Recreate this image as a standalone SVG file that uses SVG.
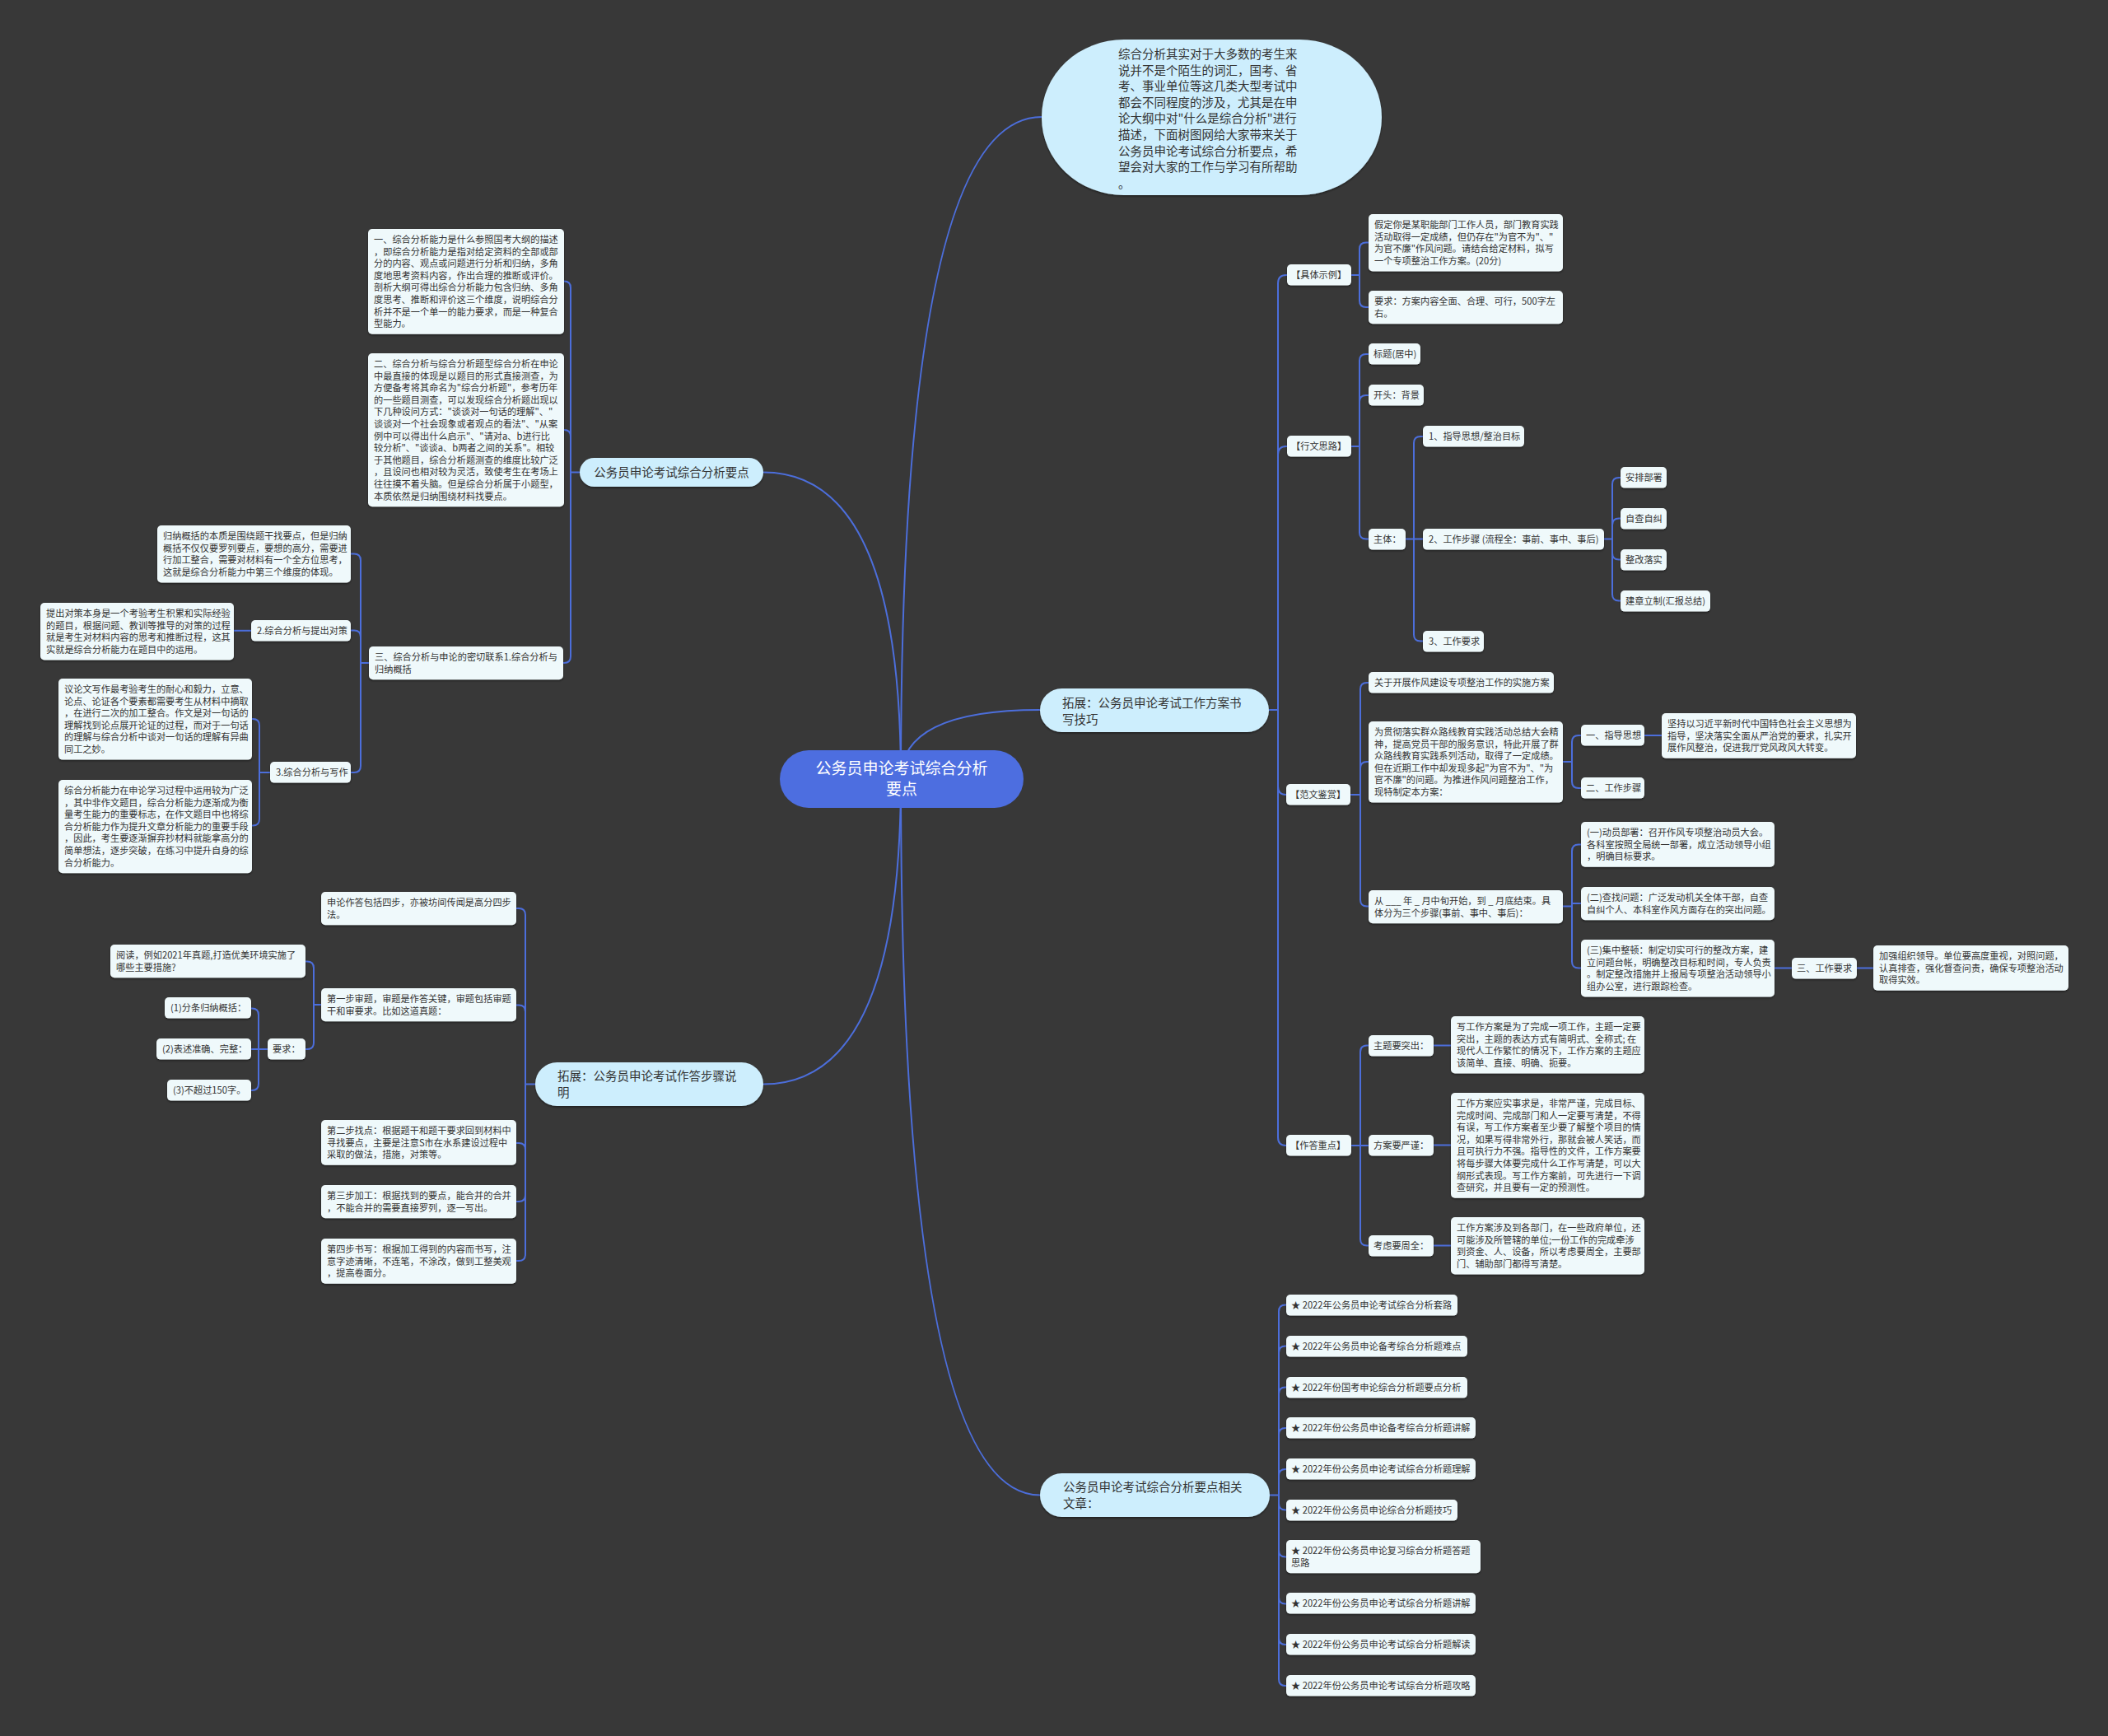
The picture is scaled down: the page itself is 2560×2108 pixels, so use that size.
<svg xmlns="http://www.w3.org/2000/svg" width="2560" height="2108" viewBox="0 0 2560 2108">
<defs>
<filter id="sh" x="-5%" y="-10%" width="110%" height="130%"><feDropShadow dx="0" dy="1.5" stdDeviation="1" flood-color="#000" flood-opacity="0.45"/></filter>
<style>
.n{fill:#eff9fb;filter:url(#sh)}
.p{fill:#cdeefd;filter:url(#sh)}
.t{font-family:"Noto Sans CJK SC","Liberation Sans",sans-serif;font-size:11.2px;fill:#333}
.pt{font-family:"Noto Sans CJK SC","Liberation Sans",sans-serif;font-size:14.5px;fill:#333}
.ct{font-family:"Noto Sans CJK SC","Liberation Sans",sans-serif;font-size:19px;fill:#fff}
.c{fill:none;stroke:#4c6edb;stroke-width:2}
</style>
</defs>
<rect x="0" y="0" width="2560" height="2108" fill="#383838"/>
<g id="connectors" class="c">
<path d="M1094 945 Q1094 142 1265 142"/>
<path d="M1094 945 Q1094 862 1263 862"/>
<path d="M1094 945 Q1094 573.5 927 573.5"/>
<path d="M1094 945 Q1094 1316.5 927 1316.5"/>
<path d="M1094 945 Q1094 1815.5 1263 1815.5"/>
<path d="M1541 862 H1552 M1552 862 V344 Q1552 334 1562 334 H1563 M1552 862 V552 Q1552 542 1562 542 H1563 M1552 862 V955 Q1552 965 1562 965 M1552 862 V1381 Q1552 1391 1562 1391"/>
<path d="M1641 334 H1651 M1651 334 V302.5 Q1651 294.5 1659 294.5 H1662 M1651 334 V365 Q1651 373 1659 373 H1662"/>
<path d="M1641 542 H1651 M1651 542 V438 Q1651 430 1659 430 H1662 M1651 542 V488 Q1651 480 1659 480 H1662 M1651 542 V646.5 Q1651 654.5 1659 654.5 H1662"/>
<path d="M1707 654.5 H1728 M1717 654.5 V538 Q1717 530 1725 530 H1728 M1717 654.5 V770.5 Q1717 778.5 1725 778.5 H1728"/>
<path d="M1948 654.5 H1958 M1958 654.5 V588 Q1958 580 1966 580 H1968 M1958 654.5 V637.5 Q1958 629.5 1966 629.5 H1968 M1958 654.5 V671.5 Q1958 679.5 1966 679.5 H1968 M1958 654.5 V721.5 Q1958 729.5 1966 729.5 H1968"/>
<path d="M1640 965 H1652 M1652 965 V837 Q1652 829 1660 829 H1662 M1652 965 V933 Q1652 925 1660 925 H1662 M1652 965 V1092.5 Q1652 1100.5 1660 1100.5 H1662"/>
<path d="M1898 925 H1909 M1909 925 V901 Q1909 893 1917 893 H1920 M1909 925 V949 Q1909 957 1917 957 H1920"/>
<path d="M1997 893 H2018"/>
<path d="M1898 1100.5 H1909 M1909 1100.5 V1033.5 Q1909 1025.5 1917 1025.5 H1920 M1909 1100.5 V1097 H1920 M1909 1100.5 V1167.5 Q1909 1175.5 1917 1175.5 H1920"/>
<path d="M2155 1175.5 H2176 M2255 1175.5 H2275"/>
<path d="M1641 1391 H1662 M1652 1391 V1277.5 Q1652 1269.5 1660 1269.5 H1662 M1652 1391 V1504.5 Q1652 1512.5 1660 1512.5 H1662"/>
<path d="M1741 1269.5 H1762 M1741 1390.5 H1762 M1741 1512.5 H1762"/>
<path d="M1542 1815.5 H1553 M1553 1815.5 V1592.5 Q1553 1584.5 1561 1584.5 H1562 M1553 1815.5 V1642.5 Q1553 1634.5 1561 1634.5 H1562 M1553 1815.5 V1692.5 Q1553 1684.5 1561 1684.5 H1562 M1553 1815.5 V1742 Q1553 1734 1561 1734 H1562 M1553 1815.5 V1792 Q1553 1784 1561 1784 H1562 M1553 1815.5 V1825.5 Q1553 1833.5 1561 1833.5 H1562 M1553 1815.5 V1882.5 Q1553 1890.5 1561 1890.5 H1562 M1553 1815.5 V1939.5 Q1553 1947.5 1561 1947.5 H1562 M1553 1815.5 V1989 Q1553 1997 1561 1997 H1562 M1553 1815.5 V2039 Q1553 2047 1561 2047 H1562"/>
<path d="M704 573.5 H693 M693 573.5 V349.5 Q693 341.5 685 341.5 M693 573.5 V530 Q693 522 685 522 M693 573.5 V797 Q693 805 685 805 H684"/>
<path d="M448 805 H438 M438 805 V680.5 Q438 672.5 430 672.5 H426 M438 805 V773.5 Q438 765.5 430 765.5 H426 M438 805 V930 Q438 938 430 938 H426"/>
<path d="M305 765.8 H284"/>
<path d="M328 938 H315 M315 938 V881 Q315 873 307 873 H306 M315 938 V994.5 Q315 1002.5 307 1002.5 H306"/>
<path d="M650 1316.5 H638 M638 1316.5 V1111 Q638 1103 630 1103 H627 M638 1316.5 V1228.5 Q638 1220.5 630 1220.5 H627 M638 1316.5 V1396 Q638 1388 630 1388 H627 M638 1316.5 V1451 Q638 1459 630 1459 H627 M638 1316.5 V1523 Q638 1531 630 1531 H627"/>
<path d="M390 1220 H381 M381 1220 V1175.5 Q381 1167.5 373 1167.5 H371 M381 1220 V1266 Q381 1274 373 1274 H371"/>
<path d="M325 1274 H305 M314 1274 V1232.5 Q314 1224.5 306 1224.5 H305 M314 1274 V1316 Q314 1324 306 1324 H305"/>
</g>

<g id="center">
<rect x="947" y="911" width="296" height="70" rx="35" fill="#4d6ee0"/>
<text class="ct" text-anchor="middle"><tspan x="1095" y="940">公务员申论考试综合分析</tspan><tspan x="1095" y="965">要点</tspan></text>
</g>

<g id="intro">
<rect class="p" x="1265" y="48" width="413" height="189" rx="100" ry="94"/>
<text class="pt"><tspan x="1358" y="71">综合分析其实对于大多数的考生来</tspan><tspan x="1358" dy="19.6">说并不是个陌生的词汇，国考、省</tspan><tspan x="1358" dy="19.6">考、事业单位等这几类大型考试中</tspan><tspan x="1358" dy="19.6">都会不同程度的涉及，尤其是在申</tspan><tspan x="1358" dy="19.6">论大纲中对"什么是综合分析"进行</tspan><tspan x="1358" dy="19.6">描述，下面树图网给大家带来关于</tspan><tspan x="1358" dy="19.6">公务员申论考试综合分析要点，希</tspan><tspan x="1358" dy="19.6">望会对大家的工作与学习有所帮助</tspan><tspan x="1358" dy="19.6">。</tspan></text>
</g>

<g id="branch-left1">
<rect class="p" x="704" y="556" width="223" height="35" rx="17.5"/>
<text class="pt" x="815.5" y="579" text-anchor="middle">公务员申论考试综合分析要点</text>
</g>
<g id="l1-a">
<rect class="n" x="447" y="278" width="238" height="127.8" rx="5"/>
<text class="t"><tspan x="454" y="295">一、综合分析能力是什么参照国考大纲的描述</tspan><tspan x="454" dy="14.6">，即综合分析能力是指对给定资料的全部或部</tspan><tspan x="454" dy="14.6">分的内容、观点或问题进行分析和归纳，多角</tspan><tspan x="454" dy="14.6">度地思考资料内容，作出合理的推断或评价。</tspan><tspan x="454" dy="14.6">剖析大纲可得出综合分析能力包含归纳、多角</tspan><tspan x="454" dy="14.6">度思考、推断和评价这三个维度，说明综合分</tspan><tspan x="454" dy="14.6">析并不是一个单一的能力要求，而是一种复合</tspan><tspan x="454" dy="14.6">型能力。</tspan></text>
</g>
<g id="l1-b">
<rect class="n" x="447" y="429" width="238" height="186.2" rx="5"/>
<text class="t"><tspan x="454" y="446">二、综合分析与综合分析题型综合分析在申论</tspan><tspan x="454" dy="14.6">中最直接的体现是以题目的形式直接测查，为</tspan><tspan x="454" dy="14.6">方便备考将其命名为"综合分析题"，参考历年</tspan><tspan x="454" dy="14.6">的一些题目测查，可以发现综合分析题出现以</tspan><tspan x="454" dy="14.6">下几种设问方式："谈谈对一句话的理解"、"</tspan><tspan x="454" dy="14.6">谈谈对一个社会现象或者观点的看法"、"从案</tspan><tspan x="454" dy="14.6">例中可以得出什么启示"、"请对a、b进行比</tspan><tspan x="454" dy="14.6">较分析"、"谈谈a、b两者之间的关系"。相较</tspan><tspan x="454" dy="14.6">于其他题目，综合分析题测查的维度比较广泛</tspan><tspan x="454" dy="14.6">，且设问也相对较为灵活，致使考生在考场上</tspan><tspan x="454" dy="14.6">往往摸不着头脑。但是综合分析属于小题型，</tspan><tspan x="454" dy="14.6">本质依然是归纳围绕材料找要点。</tspan></text>
</g>
<g id="l1-c">
<rect class="n" x="448" y="785" width="236" height="40.2" rx="5"/>
<text class="t"><tspan x="455" y="802">三、综合分析与申论的密切联系1.综合分析与</tspan><tspan x="455" dy="14.6">归纳概括</tspan></text>
</g>
<g id="l1-c1">
<rect class="n" x="191" y="638" width="235" height="69.4" rx="5"/>
<text class="t"><tspan x="198" y="655">归纳概括的本质是围绕题干找要点，但是归纳</tspan><tspan x="198" dy="14.6">概括不仅仅要罗列要点，要想的高分，需要进</tspan><tspan x="198" dy="14.6">行加工整合，需要对材料有一个全方位思考，</tspan><tspan x="198" dy="14.6">这就是综合分析能力中第三个维度的体现。</tspan></text>
</g>
<g id="l1-c2">
<rect class="n" x="305" y="753" width="121" height="25.6" rx="5"/>
<text class="t" x="312" y="770">2.综合分析与提出对策</text>
</g>
<g id="l1-c2a">
<rect class="n" x="49" y="732" width="235" height="69.4" rx="5"/>
<text class="t"><tspan x="56" y="749">提出对策本身是一个考验考生积累和实际经验</tspan><tspan x="56" dy="14.6">的题目，根据问题、教训等推导的对策的过程</tspan><tspan x="56" dy="14.6">就是考生对材料内容的思考和推断过程，这其</tspan><tspan x="56" dy="14.6">实就是综合分析能力在题目中的运用。</tspan></text>
</g>
<g id="l1-c3">
<rect class="n" x="328" y="925" width="98" height="25.6" rx="5"/>
<text class="t" x="335" y="942">3.综合分析与写作</text>
</g>
<g id="l1-c3a">
<rect class="n" x="71" y="824" width="235" height="98.6" rx="5"/>
<text class="t"><tspan x="78" y="841">议论文写作最考验考生的耐心和毅力，立意、</tspan><tspan x="78" dy="14.6">论点、论证各个要素都需要考生从材料中摘取</tspan><tspan x="78" dy="14.6">，在进行二次的加工整合。作文是对一句话的</tspan><tspan x="78" dy="14.6">理解找到论点展开论证的过程，而对于一句话</tspan><tspan x="78" dy="14.6">的理解与综合分析中谈对一句话的理解有异曲</tspan><tspan x="78" dy="14.6">同工之妙。</tspan></text>
</g>
<g id="l1-c3b">
<rect class="n" x="71" y="947" width="235" height="113.2" rx="5"/>
<text class="t"><tspan x="78" y="964">综合分析能力在申论学习过程中运用较为广泛</tspan><tspan x="78" dy="14.6">，其中非作文题目，综合分析能力逐渐成为衡</tspan><tspan x="78" dy="14.6">量考生能力的重要标志，在作文题目中也将综</tspan><tspan x="78" dy="14.6">合分析能力作为提升文章分析能力的重要手段</tspan><tspan x="78" dy="14.6">，因此，考生要逐渐摒弃抄材料就能拿高分的</tspan><tspan x="78" dy="14.6">简单想法，逐步突破，在练习中提升自身的综</tspan><tspan x="78" dy="14.6">合分析能力。</tspan></text>
</g>

<g id="branch-left2">
<rect class="p" x="650" y="1290" width="277" height="53" rx="26.5"/>
<text class="pt"><tspan x="677" y="1312">拓展：公务员申论考试作答步骤说</tspan><tspan x="677" dy="20">明</tspan></text>
</g>
<g id="l2-s0">
<rect class="n" x="390" y="1083" width="237" height="40.2" rx="5"/>
<text class="t"><tspan x="397" y="1100">申论作答包括四步，亦被坊间传闻是高分四步</tspan><tspan x="397" dy="14.6">法。</tspan></text>
</g>
<g id="l2-s1">
<rect class="n" x="390" y="1200" width="237" height="40.2" rx="5"/>
<text class="t"><tspan x="397" y="1217">第一步审题，审题是作答关键，审题包括审题</tspan><tspan x="397" dy="14.6">干和审要求。比如这道真题：</tspan></text>
</g>
<g id="l2-s1a">
<rect class="n" x="134" y="1147" width="237" height="40.2" rx="5"/>
<text class="t"><tspan x="141" y="1164">阅读，例如2021年真题,打造优美环境实施了</tspan><tspan x="141" dy="14.6">哪些主要措施?</tspan></text>
</g>
<g id="l2-s1b">
<rect class="n" x="325" y="1261" width="46" height="25.6" rx="5"/>
<text class="t" x="331" y="1278">要求：</text>
</g>
<g id="l2-s1b1">
<rect class="n" x="200" y="1211" width="105" height="25.6" rx="5"/>
<text class="t" x="207" y="1228">(1)分条归纳概括：</text>
</g>
<g id="l2-s1b2">
<rect class="n" x="190" y="1261" width="115" height="25.6" rx="5"/>
<text class="t" x="197" y="1278">(2)表述准确、完整：</text>
</g>
<g id="l2-s1b3">
<rect class="n" x="203" y="1311" width="102" height="25.6" rx="5"/>
<text class="t" x="210" y="1328">(3)不超过150字。</text>
</g>
<g id="l2-s2">
<rect class="n" x="390" y="1360" width="237" height="54.8" rx="5"/>
<text class="t"><tspan x="397" y="1377">第二步找点：根据题干和题干要求回到材料中</tspan><tspan x="397" dy="14.6">寻找要点，主要是注意S市在水系建设过程中</tspan><tspan x="397" dy="14.6">采取的做法，措施，对策等。</tspan></text>
</g>
<g id="l2-s3">
<rect class="n" x="390" y="1439" width="237" height="40.2" rx="5"/>
<text class="t"><tspan x="397" y="1456">第三步加工：根据找到的要点，能合并的合并</tspan><tspan x="397" dy="14.6">，不能合并的需要直接罗列，逐一写出。</tspan></text>
</g>
<g id="l2-s4">
<rect class="n" x="390" y="1504" width="237" height="54.8" rx="5"/>
<text class="t"><tspan x="397" y="1521">第四步书写：根据加工得到的内容而书写，注</tspan><tspan x="397" dy="14.6">意字迹清晰，不连笔，不涂改，做到工整美观</tspan><tspan x="397" dy="14.6">，提高卷面分。</tspan></text>
</g>

<g id="branch-right1">
<rect class="p" x="1263" y="836" width="278" height="53" rx="26.5"/>
<text class="pt"><tspan x="1290" y="858.5">拓展：公务员申论考试工作方案书</tspan><tspan x="1290" dy="20">写技巧</tspan></text>
</g>
<g id="r1-k1">
<rect class="n" x="1563" y="321" width="78" height="25.6" rx="5"/>
<text class="t" x="1568" y="338">【具体示例】</text>
</g>
<g id="r1-k1a">
<rect class="n" x="1662" y="260" width="236" height="69.4" rx="5"/>
<text class="t"><tspan x="1669" y="277">假定你是某职能部门工作人员，部门教育实践</tspan><tspan x="1669" dy="14.6">活动取得一定成绩，但仍存在"为官不为"、"</tspan><tspan x="1669" dy="14.6">为官不廉"作风问题。请结合给定材料，拟写</tspan><tspan x="1669" dy="14.6">一个专项整治工作方案。(20分)</tspan></text>
</g>
<g id="r1-k1b">
<rect class="n" x="1662" y="353" width="236" height="40.2" rx="5"/>
<text class="t"><tspan x="1669" y="370">要求：方案内容全面、合理、可行，500字左</tspan><tspan x="1669" dy="14.6">右。</tspan></text>
</g>
<g id="r1-k2">
<rect class="n" x="1563" y="529" width="78" height="25.6" rx="5"/>
<text class="t" x="1568" y="546">【行文思路】</text>
</g>
<g id="r1-k2a">
<rect class="n" x="1662" y="417" width="63" height="25.6" rx="5"/>
<text class="t" x="1668" y="434">标题(居中)</text>
</g>
<g id="r1-k2b">
<rect class="n" x="1662" y="467" width="67" height="25.6" rx="5"/>
<text class="t" x="1668" y="484">开头：背景</text>
</g>
<g id="r1-k2c">
<rect class="n" x="1662" y="642" width="45" height="25.6" rx="5"/>
<text class="t" x="1668" y="659">主体：</text>
</g>
<g id="r1-k2c1">
<rect class="n" x="1728" y="517" width="123" height="25.6" rx="5"/>
<text class="t" x="1735" y="534">1、指导思想/整治目标</text>
</g>
<g id="r1-k2c2">
<rect class="n" x="1728" y="642" width="220" height="25.6" rx="5"/>
<text class="t" x="1735" y="659">2、工作步骤 (流程全：事前、事中、事后)</text>
</g>
<g id="r1-k2c3">
<rect class="n" x="1728" y="766" width="74" height="25.6" rx="5"/>
<text class="t" x="1735" y="783">3、工作要求</text>
</g>
<g id="r1-k2c2a">
<rect class="n" x="1968" y="567" width="56" height="25.6" rx="5"/>
<text class="t" x="1974" y="584">安排部署</text>
</g>
<g id="r1-k2c2b">
<rect class="n" x="1968" y="617" width="56" height="25.6" rx="5"/>
<text class="t" x="1974" y="634">自查自纠</text>
</g>
<g id="r1-k2c2c">
<rect class="n" x="1968" y="667" width="56" height="25.6" rx="5"/>
<text class="t" x="1974" y="684">整改落实</text>
</g>
<g id="r1-k2c2d">
<rect class="n" x="1968" y="717" width="109" height="25.6" rx="5"/>
<text class="t" x="1974" y="734">建章立制(汇报总结)</text>
</g>
<g id="r1-k3">
<rect class="n" x="1562" y="952" width="78" height="25.6" rx="5"/>
<text class="t" x="1567" y="969">【范文鉴赏】</text>
</g>
<g id="r1-k3a">
<rect class="n" x="1662" y="816" width="225" height="25.6" rx="5"/>
<text class="t" x="1669" y="833">关于开展作风建设专项整治工作的实施方案</text>
</g>
<g id="r1-k3b">
<rect class="n" x="1662" y="876" width="236" height="98.6" rx="5"/>
<text class="t"><tspan x="1669" y="893">为贯彻落实群众路线教育实践活动总结大会精</tspan><tspan x="1669" dy="14.6">神，提高党员干部的服务意识，特此开展了群</tspan><tspan x="1669" dy="14.6">众路线教育实践系列活动，取得了一定成绩。</tspan><tspan x="1669" dy="14.6">但在近期工作中却发现多起"为官不为"、"为</tspan><tspan x="1669" dy="14.6">官不廉"的问题。为推进作风问题整治工作，</tspan><tspan x="1669" dy="14.6">现特制定本方案：</tspan></text>
</g>
<g id="r1-k3b1">
<rect class="n" x="1920" y="880" width="77" height="25.6" rx="5"/>
<text class="t" x="1926" y="897">一、指导思想</text>
</g>
<g id="r1-k3b1a">
<rect class="n" x="2018" y="866" width="236" height="54.8" rx="5"/>
<text class="t"><tspan x="2025" y="883">坚持以习近平新时代中国特色社会主义思想为</tspan><tspan x="2025" dy="14.6">指导，坚决落实全面从严治党的要求，扎实开</tspan><tspan x="2025" dy="14.6">展作风整治，促进我厅党风政风大转变。</tspan></text>
</g>
<g id="r1-k3b2">
<rect class="n" x="1920" y="944" width="77" height="25.6" rx="5"/>
<text class="t" x="1926" y="961">二、工作步骤</text>
</g>
<g id="r1-k3c">
<rect class="n" x="1662" y="1081" width="236" height="40.2" rx="5"/>
<text class="t"><tspan x="1669" y="1098">从 ___ 年 _ 月中旬开始，到 _ 月底结束。具</tspan><tspan x="1669" dy="14.6">体分为三个步骤(事前、事中、事后)：</tspan></text>
</g>
<g id="r1-k3c1">
<rect class="n" x="1920" y="998" width="235" height="54.8" rx="5"/>
<text class="t"><tspan x="1927" y="1015">(一)动员部署：召开作风专项整治动员大会。</tspan><tspan x="1927" dy="14.6">各科室按照全局统一部署，成立活动领导小组</tspan><tspan x="1927" dy="14.6">，明确目标要求。</tspan></text>
</g>
<g id="r1-k3c2">
<rect class="n" x="1920" y="1077" width="235" height="40.2" rx="5"/>
<text class="t"><tspan x="1927" y="1094">(二)查找问题：广泛发动机关全体干部，自查</tspan><tspan x="1927" dy="14.6">自纠个人、本科室作风方面存在的突出问题。</tspan></text>
</g>
<g id="r1-k3c3">
<rect class="n" x="1920" y="1141" width="235" height="69.4" rx="5"/>
<text class="t"><tspan x="1927" y="1158">(三)集中整顿：制定切实可行的整改方案，建</tspan><tspan x="1927" dy="14.6">立问题台帐，明确整改目标和时间，专人负责</tspan><tspan x="1927" dy="14.6">。制定整改措施并上报局专项整治活动领导小</tspan><tspan x="1927" dy="14.6">组办公室，进行跟踪检查。</tspan></text>
</g>
<g id="r1-k3c3a">
<rect class="n" x="2176" y="1163" width="79" height="25.6" rx="5"/>
<text class="t" x="2182" y="1180">三、工作要求</text>
</g>
<g id="r1-k3c3a1">
<rect class="n" x="2275" y="1148" width="237" height="54.8" rx="5"/>
<text class="t"><tspan x="2282" y="1165">加强组织领导。单位要高度重视，对照问题，</tspan><tspan x="2282" dy="14.6">认真排查，强化督查问责，确保专项整治活动</tspan><tspan x="2282" dy="14.6">取得实效。</tspan></text>
</g>
<g id="r1-k4">
<rect class="n" x="1562" y="1378" width="79" height="25.6" rx="5"/>
<text class="t" x="1567" y="1395">【作答重点】</text>
</g>
<g id="r1-k4a">
<rect class="n" x="1662" y="1257" width="79" height="25.6" rx="5"/>
<text class="t" x="1668" y="1274">主题要突出：</text>
</g>
<g id="r1-k4b">
<rect class="n" x="1662" y="1378" width="79" height="25.6" rx="5"/>
<text class="t" x="1668" y="1395">方案要严谨：</text>
</g>
<g id="r1-k4c">
<rect class="n" x="1662" y="1500" width="79" height="25.6" rx="5"/>
<text class="t" x="1668" y="1517">考虑要周全：</text>
</g>
<g id="r1-k4a1">
<rect class="n" x="1762" y="1234" width="235" height="69.4" rx="5"/>
<text class="t"><tspan x="1769" y="1251">写工作方案是为了完成一项工作，主题一定要</tspan><tspan x="1769" dy="14.6">突出，主题的表达方式有简明式、全称式; 在</tspan><tspan x="1769" dy="14.6">现代人工作繁忙的情况下，工作方案的主题应</tspan><tspan x="1769" dy="14.6">该简单、直接、明确、扼要。</tspan></text>
</g>
<g id="r1-k4b1">
<rect class="n" x="1762" y="1327" width="235" height="127.8" rx="5"/>
<text class="t"><tspan x="1769" y="1344">工作方案应实事求是，非常严谨，完成目标、</tspan><tspan x="1769" dy="14.6">完成时间、完成部门和人一定要写清楚，不得</tspan><tspan x="1769" dy="14.6">有误，写工作方案者至少要了解整个项目的情</tspan><tspan x="1769" dy="14.6">况，如果写得非常外行，那就会被人笑话，而</tspan><tspan x="1769" dy="14.6">且可执行力不强。指导性的文件，工作方案要</tspan><tspan x="1769" dy="14.6">将每步骤大体要完成什么工作写清楚，可以大</tspan><tspan x="1769" dy="14.6">纲形式表现。写工作方案前，可先进行一下调</tspan><tspan x="1769" dy="14.6">查研究，并且要有一定的预测性。</tspan></text>
</g>
<g id="r1-k4c1">
<rect class="n" x="1762" y="1478" width="235" height="69.4" rx="5"/>
<text class="t"><tspan x="1769" y="1495">工作方案涉及到各部门，在一些政府单位，还</tspan><tspan x="1769" dy="14.6">可能涉及所管辖的单位;一份工作的完成牵涉</tspan><tspan x="1769" dy="14.6">到资金、人、设备，所以考虑要周全，主要部</tspan><tspan x="1769" dy="14.6">门、辅助部门都得写清楚。</tspan></text>
</g>

<g id="branch-right2">
<rect class="p" x="1263" y="1789" width="279" height="53" rx="26.5"/>
<text class="pt"><tspan x="1291" y="1811">公务员申论考试综合分析要点相关</tspan><tspan x="1291" dy="20">文章：</tspan></text>
</g>
<g id="art1"><rect class="n" x="1562" y="1572" width="208" height="25.6" rx="5"/><text class="t" x="1568" y="1589">★ 2022年公务员申论考试综合分析套路</text></g>
<g id="art2"><rect class="n" x="1562" y="1622" width="220" height="25.6" rx="5"/><text class="t" x="1568" y="1639">★ 2022年公务员申论备考综合分析题难点</text></g>
<g id="art3"><rect class="n" x="1562" y="1672" width="220" height="25.6" rx="5"/><text class="t" x="1568" y="1689">★ 2022年份国考申论综合分析题要点分析</text></g>
<g id="art4"><rect class="n" x="1562" y="1721" width="230" height="25.6" rx="5"/><text class="t" x="1568" y="1738">★ 2022年份公务员申论备考综合分析题讲解</text></g>
<g id="art5"><rect class="n" x="1562" y="1771" width="230" height="25.6" rx="5"/><text class="t" x="1568" y="1788">★ 2022年份公务员申论考试综合分析题理解</text></g>
<g id="art6"><rect class="n" x="1562" y="1821" width="208" height="25.6" rx="5"/><text class="t" x="1568" y="1838">★ 2022年份公务员申论综合分析题技巧</text></g>
<g id="art7"><rect class="n" x="1562" y="1870" width="236" height="40.2" rx="5"/><text class="t"><tspan x="1568" y="1887">★ 2022年份公务员申论复习综合分析题答题</tspan><tspan x="1568" dy="14.6">思路</tspan></text></g>
<g id="art8"><rect class="n" x="1562" y="1934" width="230" height="25.6" rx="5"/><text class="t" x="1568" y="1951">★ 2022年份公务员申论考试综合分析题讲解</text></g>
<g id="art9"><rect class="n" x="1562" y="1984" width="230" height="25.6" rx="5"/><text class="t" x="1568" y="2001">★ 2022年份公务员申论考试综合分析题解读</text></g>
<g id="art10"><rect class="n" x="1562" y="2034" width="230" height="25.6" rx="5"/><text class="t" x="1568" y="2051">★ 2022年份公务员申论考试综合分析题攻略</text></g>
</svg>
